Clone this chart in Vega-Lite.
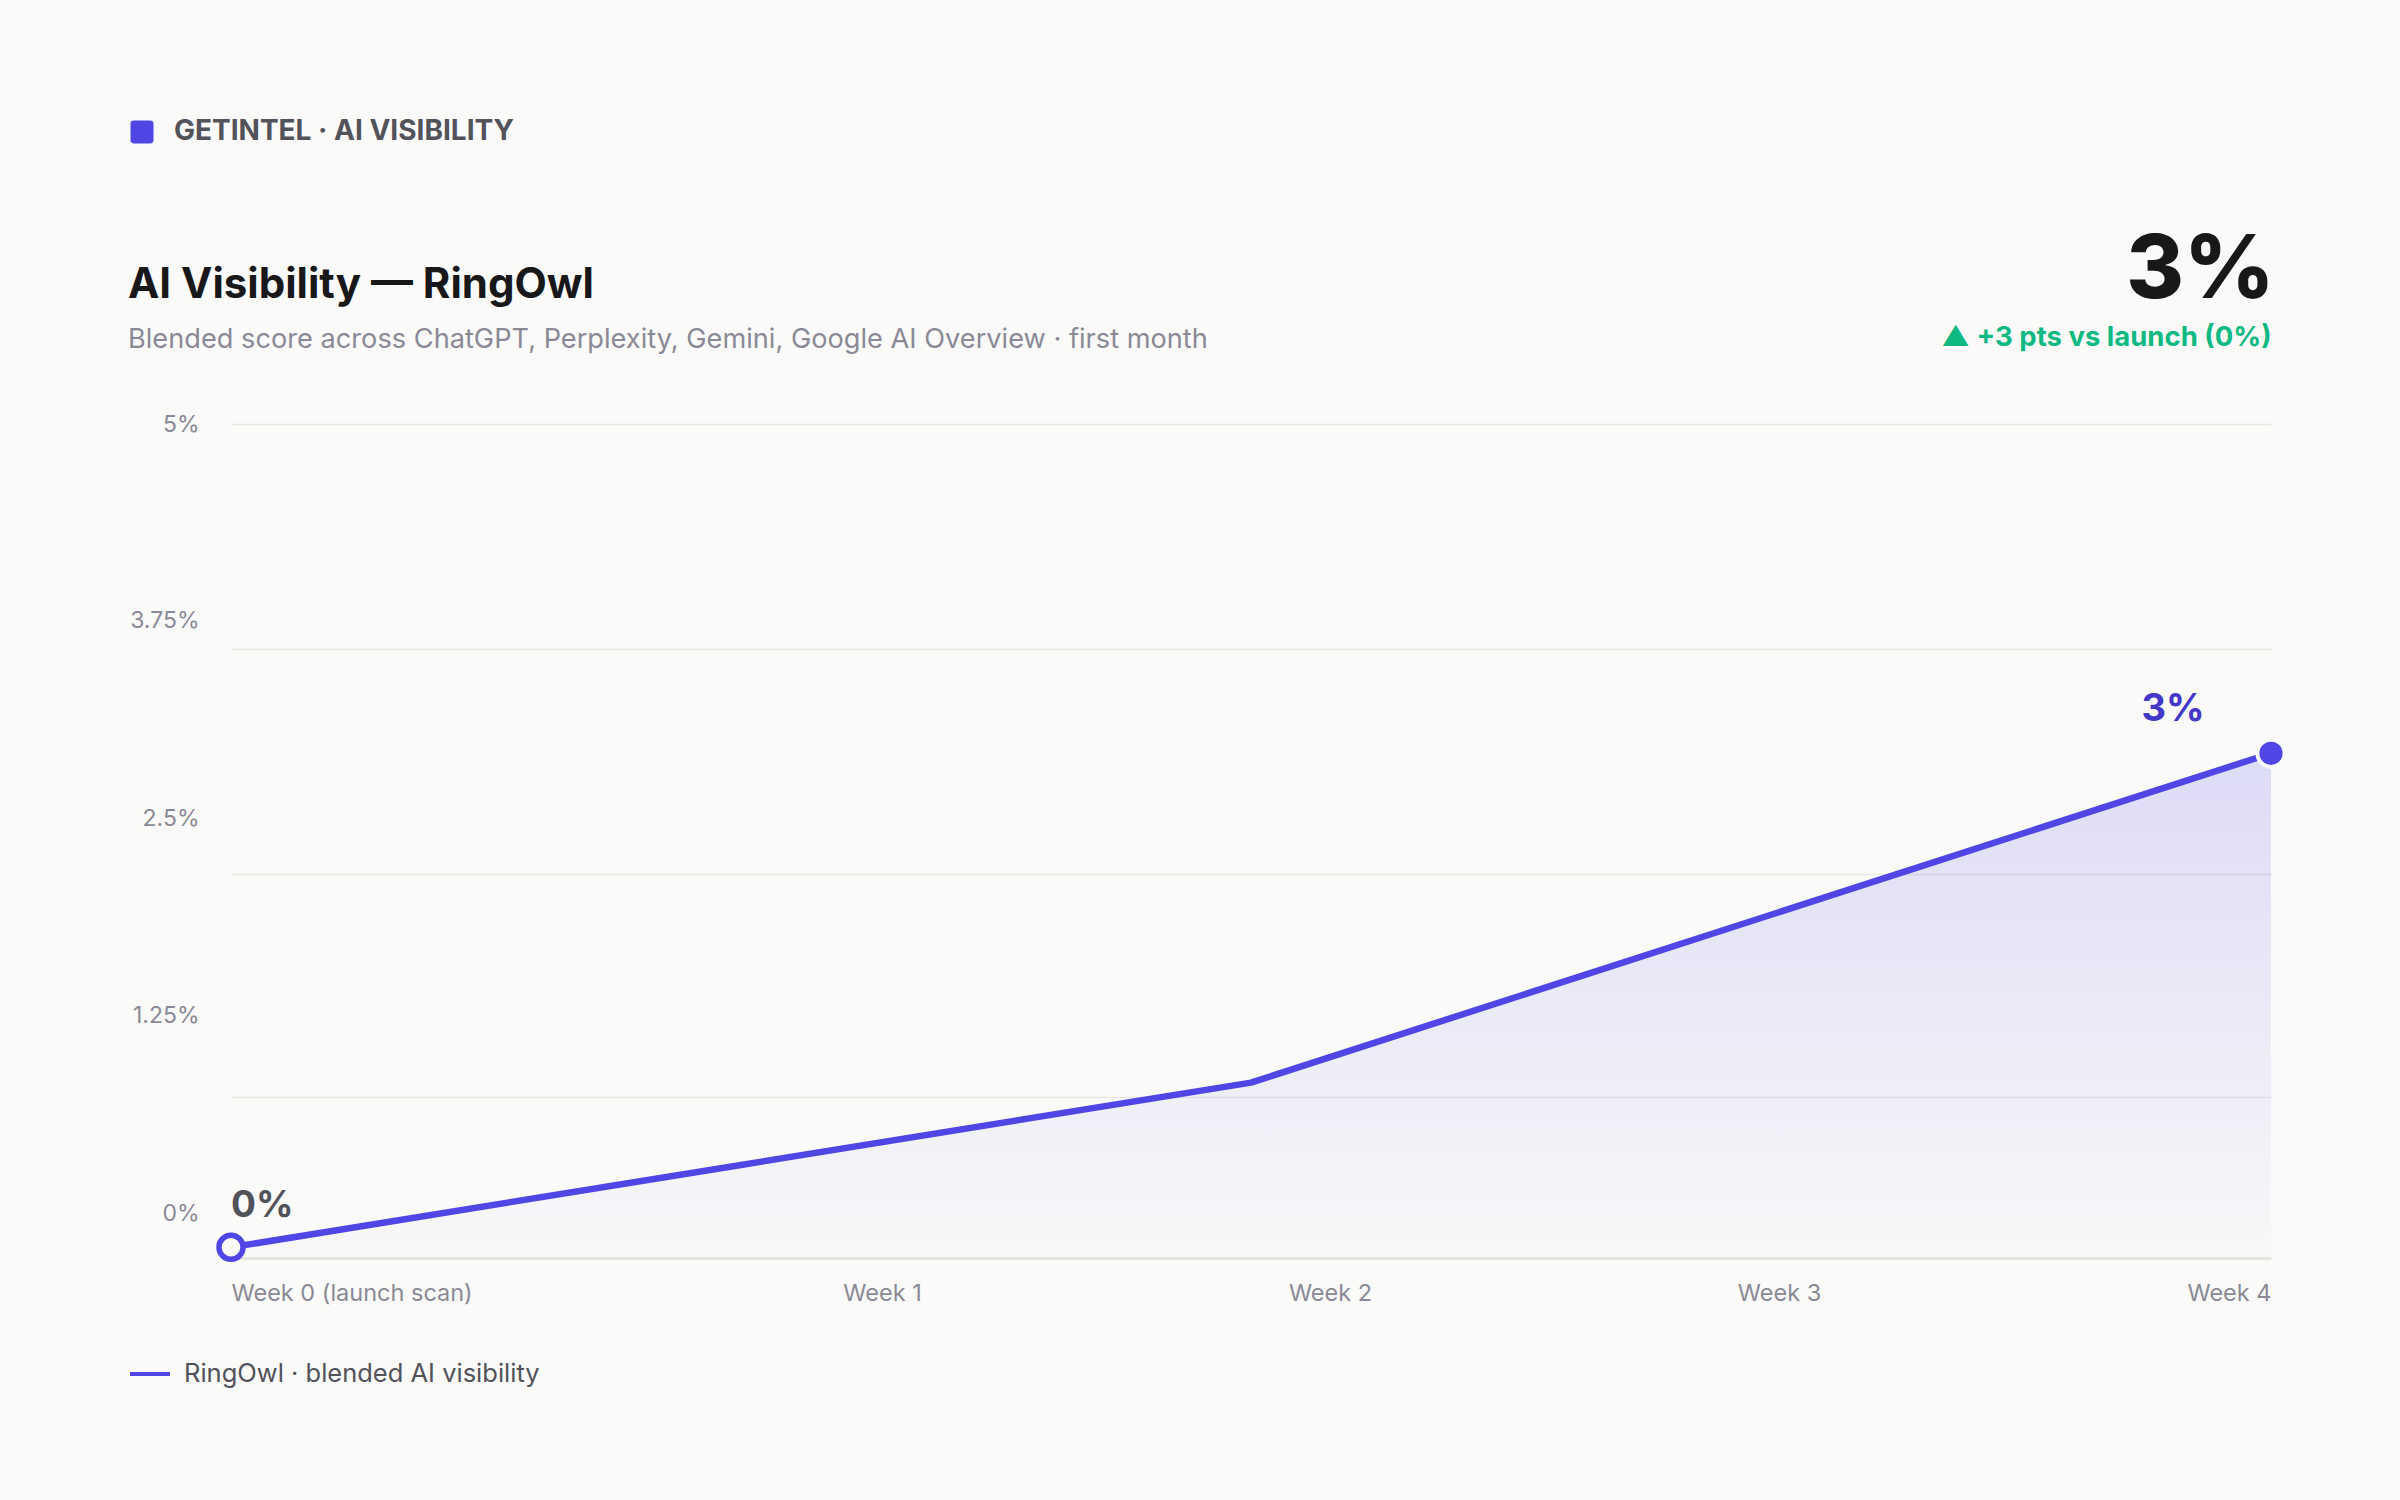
{
  "$schema": "https://vega.github.io/schema/vega-lite/v6.json",
  "width": 2040,
  "height": 834,
  "autosize": {"type": "none"},
  "padding": {"left": 231, "top": 424, "right": 129, "bottom": 242},
  "background": "#fafaf9",
  "config": {"view": {"stroke": null}, "font": "Inter"},
  "title": {
    "text": "AI Visibility — RingOwl",
    "subtitle": "Blended score across ChatGPT, Perplexity, Gemini, Google AI Overview · first month",
    "anchor": "start",
    "frame": "group",
    "dx": -103,
    "dy": 296,
    "offset": 60,
    "font": "Inter",
    "fontSize": 42,
    "fontWeight": 700,
    "color": "#18181b",
    "subtitleFont": "Inter",
    "subtitleFontSize": 27.2,
    "subtitleColor": "#8a8a96",
    "subtitlePadding": 20,
    "limit": 0
  },
  "data": {
    "values": [
      {"week": 0, "score": 0, "label": "0%"},
      {"week": 1, "score": 0.5},
      {"week": 2, "score": 1.0},
      {"week": 3, "score": 2.0},
      {"week": 4, "score": 3.0, "label": "3%"}
    ]
  },
  "encoding": {
    "x": {
      "field": "week",
      "type": "quantitative",
      "scale": {"domain": [0, 4], "nice": false, "zero": false},
      "axis": {
        "values": [0, 1, 2, 3, 4],
        "labelExpr": "datum.value == 0 ? 'Week 0 (launch scan)' : 'Week ' + datum.value",
        "labelFlush": true,
        "labelLimit": 1000,
        "labelOffset": {"condition": [
          {"test": "datum.value == 1", "value": 141},
          {"test": "datum.value == 2", "value": 79},
          {"test": "datum.value == 3", "value": 18}
        ], "value": 0},
        "ticks": false,
        "grid": false,
        "domain": true,
        "domainColor": "#e7e3de",
        "domainWidth": 3,
        "labelFont": "Inter",
        "labelFontSize": 23.5,
        "labelColor": "#8a8a96",
        "labelPadding": 23,
        "title": "▲ +3 pts vs launch (0%)",
        "titleX": 2040,
        "titleY": -913,
        "titleAlign": "right",
        "titleBaseline": "alphabetic",
        "titleFont": "Inter",
        "titleFontSize": 27.5,
        "titleFontWeight": 700,
        "titleColor": "#10b981",
        "titleLimit": 0
      }
    },
    "y": {
      "field": "score",
      "type": "quantitative",
      "scale": {"domain": [-0.065, 5], "nice": false, "zero": false},
      "axis": {
        "values": [5, 3.634, 2.268, 0.914, 0.204],
        "labelExpr": "datum.value > 4.9 ? '5%' : datum.value > 3 ? '3.75%' : datum.value > 2 ? '2.5%' : datum.value > 0.5 ? '1.25%' : '0%'",
        "labelOffset": {"condition": [
          {"test": "datum.value > 3 && datum.value < 4", "value": -28},
          {"test": "datum.value > 2 && datum.value < 3", "value": -55},
          {"test": "datum.value > 0.5 && datum.value < 1", "value": -81}
        ], "value": 0},
        "grid": true,
        "gridColor": "#e9e7e4",
        "gridWidth": 1.5,
        "gridOpacity": {"condition": {"test": "datum.value < 0.5", "value": 0}, "value": 1},
        "domain": false,
        "ticks": false,
        "labelFont": "Inter",
        "labelFontSize": 23,
        "labelColor": "#8a8a96",
        "labelPadding": 32,
        "title": "3%",
        "titleX": 2043,
        "titleY": -127,
        "titleAngle": 0,
        "titleAlign": "right",
        "titleBaseline": "alphabetic",
        "titleFont": "Inter",
        "titleFontSize": 88,
        "titleFontWeight": 800,
        "titleColor": "#18181b",
        "titleLimit": 0
      }
    }
  },
  "layer": [
    {
      "mark": {
        "type": "area",
        "fill": {
          "gradient": "linear",
          "x1": 0, "y1": 0, "x2": 0, "y2": 1,
          "stops": [
            {"offset": 0, "color": "rgba(79,70,229,0.17)"},
            {"offset": 1, "color": "rgba(79,70,229,0.01)"}
          ]
        }
      },
      "encoding": {"y2": {"datum": -0.065}}
    },
    {
      "mark": {"type": "line", "strokeWidth": 6.5, "strokeCap": "round", "strokeJoin": "round"},
      "encoding": {
        "color": {
          "datum": "RingOwl · blended AI visibility",
          "scale": {"range": ["#4f46e5"]},
          "legend": {
            "title": null,
            "orient": "none",
            "legendX": -103,
            "legendY": 928,
            "padding": 0,
            "symbolType": "stroke",
            "symbolSize": 1600,
            "symbolStrokeWidth": 4,
            "labelFont": "Inter",
            "labelFontSize": 25.5,
            "labelColor": "#52525b",
            "labelOffset": 12,
            "labelLimit": 1000
          }
        }
      }
    },
    {
      "transform": [{"filter": "isValid(datum.label)"}],
      "mark": {"type": "point", "filled": true, "opacity": 1},
      "encoding": {
        "fill": {
          "condition": {"test": "datum.week == 0", "value": "#fafaf9"},
          "datum": "GETINTEL · AI VISIBILITY",
          "scale": {"range": ["#4f46e5"]},
          "legend": {
            "title": null,
            "orient": "none",
            "legendX": -103,
            "legendY": -306,
            "padding": 0,
            "symbolType": "M -0.7 -1 H 0.7 Q 1 -1 1 -0.7 V 0.7 Q 1 1 0.7 1 H -0.7 Q -1 1 -1 0.7 V -0.7 Q -1 -1 -0.7 -1 Z",
            "symbolSize": 529,
            "symbolStrokeWidth": 0,
            "symbolOpacity": 1,
            "labelFont": "Inter",
            "labelFontSize": 28,
            "labelFontWeight": 700,
            "labelColor": "#52525b",
            "labelOffset": 18,
            "labelLimit": 1000
          }
        },
        "stroke": {"condition": {"test": "datum.week == 0", "value": "#4f46e5"}, "value": "#fafaf9"},
        "strokeWidth": {"condition": {"test": "datum.week == 0", "value": 5.5}, "value": 4},
        "size": {"condition": {"test": "datum.week == 0", "value": 580}, "value": 740}
      }
    },
    {
      "transform": [{"filter": "datum.week == 0"}],
      "mark": {"type": "text", "align": "left", "baseline": "alphabetic", "dy": -30, "fontSize": 37, "fontWeight": 700, "color": "#52525b", "font": "Inter"},
      "encoding": {"text": {"field": "label"}}
    },
    {
      "transform": [{"filter": "datum.week == 4"}],
      "mark": {"type": "text", "align": "center", "baseline": "alphabetic", "dx": -98, "dy": -32, "fontSize": 38, "fontWeight": 700, "color": "#4338ca", "font": "Inter"},
      "encoding": {"text": {"field": "label"}}
    }
  ]
}
